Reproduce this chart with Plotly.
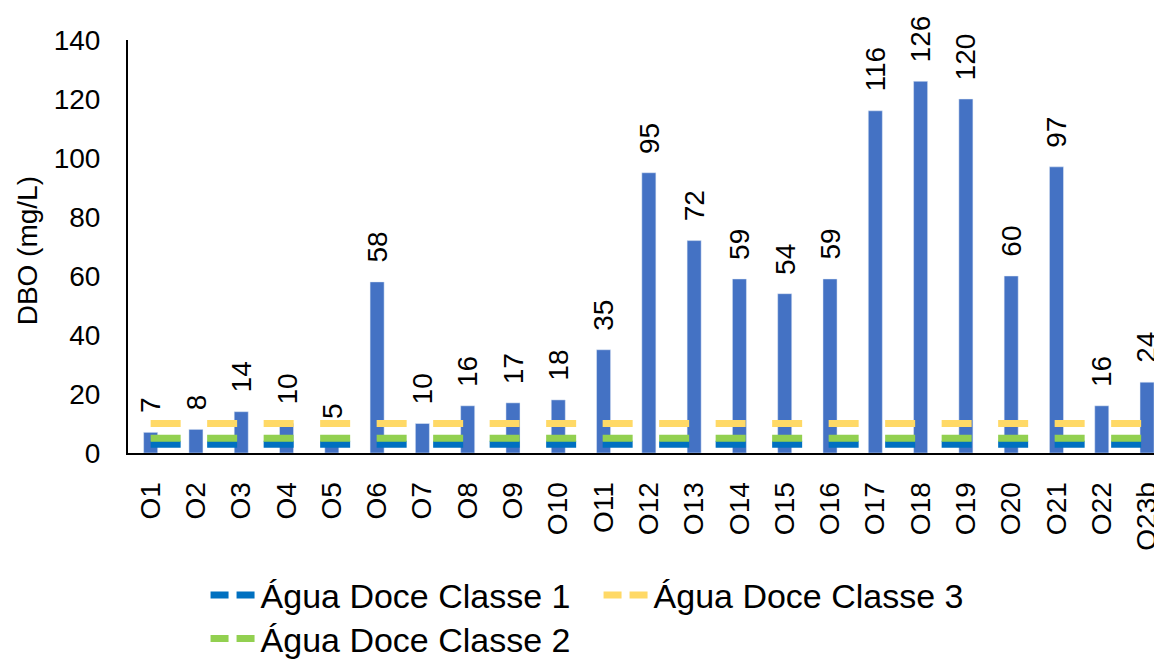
import plotly.graph_objects as go

categories = ["O1", "O2", "O3", "O4", "O5", "O6", "O7", "O8", "O9", "O10", "O11", "O12",
              "O13", "O14", "O15", "O16", "O17", "O18", "O19", "O20", "O21", "O22", "O23b"]
dbo = [7, 8, 14, 10, 5, 58, 10, 16, 17, 18, 35, 95, 72, 59, 54, 59, 116, 126, 120, 60, 97, 16, 24]
classe1 = [3] * len(categories)
classe2 = [5] * len(categories)
classe3 = [10] * len(categories)

FONT = "Liberation Sans, Arial, sans-serif"
BAR = "#4472C4"
C1 = "#0070C0"
C2 = "#92D050"
C3 = "#FFD966"
TICK = 28

fig = go.Figure()
fig.add_trace(go.Bar(x=categories, y=dbo, marker_color=BAR, width=0.31,
                     showlegend=False, name="DBO"))

LDASH = "30px,26.5px"
for name, vals, col in [("Água Doce Classe 1", classe1, C1),
                        ("Água Doce Classe 3", classe3, C3),
                        ("Água Doce Classe 2", classe2, C2)]:
    fig.add_trace(go.Scatter(x=categories, y=vals, mode="lines", name=name,
                             line=dict(color=col, width=7, dash=LDASH),
                             showlegend=False))

# legend-only entries
for name, col, lg in [("Água Doce Classe 1", C1, "legend"),
                      ("Água Doce Classe 3", C3, "legend"),
                      ("Água Doce Classe 2", C2, "legend2")]:
    fig.add_trace(go.Scatter(x=[None], y=[None], mode="lines", name=name,
                             line=dict(color=col, width=7, dash="18px,8px"),
                             legend=lg))

for c, v in zip(categories, dbo):
    fig.add_annotation(x=c, y=v, text=str(v), textangle=-90, showarrow=False,
                       xanchor="center", yanchor="bottom", yshift=17,
                       font=dict(family=FONT, size=TICK, color="#000000"))

fig.add_annotation(x=-0.097, y=0.49, xref="paper", yref="paper", text="DBO (mg/L)",
                   textangle=-90, showarrow=False, xanchor="center", yanchor="middle",
                   font=dict(family=FONT, size=28, color="#000000"))

LEGFONT = dict(family=FONT, size=34, color="#000000")
fig.update_layout(
    width=1162, height=661,
    margin=dict(l=120, r=8, t=32, b=216, autoexpand=False),
    paper_bgcolor="white", plot_bgcolor="white",
    font=dict(family=FONT, size=TICK, color="#000000"),
    bargap=0.69,
    xaxis=dict(type="category", range=[-0.5, 22.33], showline=True, linecolor="black",
               linewidth=2, showgrid=False, ticks="", tickangle=-90, automargin=False,
               tickfont=dict(family=FONT, size=TICK, color="#000000"),
               ticklabelstandoff=16),
    yaxis=dict(range=[0, 140], dtick=20, showline=True, linecolor="black", linewidth=2,
               showgrid=False, zeroline=False, ticks="", automargin=False,
               tickfont=dict(family=FONT, size=TICK, color="#000000"),
               ticklabelstandoff=20),
    legend=dict(orientation="h", x=0.075, y=-0.345, xanchor="left", yanchor="middle",
                font=LEGFONT, bgcolor="rgba(0,0,0,0)", itemwidth=45,
                entrywidth=333, tracegroupgap=0),
    legend2=dict(orientation="h", x=0.075, y=-0.45, xanchor="left", yanchor="middle",
                 font=LEGFONT, bgcolor="rgba(0,0,0,0)", itemwidth=45),
)

fig.write_html("out.html")
